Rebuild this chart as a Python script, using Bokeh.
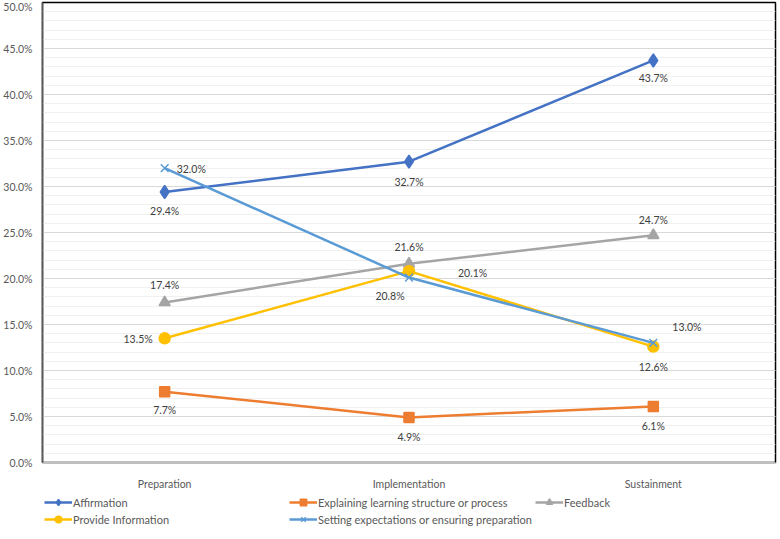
from bokeh.plotting import figure
from bokeh.models import (ColumnDataSource, Legend, LegendItem, PrintfTickFormatter,
                          SingleIntervalTicker, Range1d)
from bokeh.layouts import column
from bokeh.core.properties import value
from bokeh.embed import file_html
from bokeh.resources import INLINE

# ---------------- data ----------------
phases = ["Preparation", "Implementation", "Sustainment"]
affirmation = [29.4, 32.7, 43.7]
explaining = [7.7, 4.9, 6.1]
feedback = [17.4, 21.6, 24.7]
provide_info = [13.5, 20.8, 12.6]
setting_expect = [32.0, 20.1, 13.0]
series_names = ["Affirmation", "Explaining learning structure or process", "Feedback",
                "Provide Information", "Setting expectations or ensuring preparation"]
series_values = [affirmation, explaining, feedback, provide_info, setting_expect]

# ---------------- style ----------------
FONT = "Lato"
colors = ["#4472C4", "#ED7D31", "#A5A5A5", "#FFC000", "#5B9BD5"]
markers = ["diamond", "square", "triangle", "circle", "x"]
msizes = [13, 10, 11, 11, 11]
# label placement per point: (dx, dy, align)
label_place = [
    [(0, 19, "center"), (0, 20, "center"), (0, 18, "center")],
    [(0, 18, "center"), (0, 20, "center"), (0, 20, "center")],
    [(0, -17, "center"), (0, -17, "center"), (0, -15, "center")],
    [(-12, 1, "right"), (-19, 25, "center"), (0, 20, "center")],
    [(12, 1, "left"), (49, -5, "left"), (19, -16, "left")],
]

p = figure(x_range=phases, y_range=Range1d(0, 50), width=764, height=488,
           frame_width=733, frame_height=460,
           output_backend="svg", toolbar_location=None,
           min_border_top=2, min_border_right=3, min_border_left=0, min_border_bottom=26)
p.background_fill_color = "white"
p.border_fill_color = "white"
p.outline_line_color = "black"
p.outline_line_width = 1.5

p.yaxis.ticker = SingleIntervalTicker(interval=5, num_minor_ticks=5)
p.yaxis.formatter = PrintfTickFormatter(format="%.1f%%")
for ax in (p.xaxis, p.yaxis):
    ax.major_tick_line_color = None
    ax.minor_tick_line_color = None
    ax.major_label_text_font = FONT
    ax.major_label_text_font_size = "10.5px"
    ax.major_label_text_color = "#595959"
p.yaxis.axis_line_color = "#595959"
p.yaxis.axis_line_width = 1.5
p.yaxis.major_label_standoff = 4
p.xaxis.axis_line_color = "#BFBFBF"
p.xaxis.major_label_standoff = 9

p.xgrid.grid_line_color = None
p.ygrid.grid_line_color = "#D9D9D9"
p.ygrid.minor_grid_line_color = "#F0F0F0"

for i, (name, vals) in enumerate(zip(series_names, series_values)):
    src = ColumnDataSource(dict(x=phases, y=vals))
    p.line("x", "y", source=src, line_color=colors[i], line_width=2.5)
    p.scatter("x", "y", source=src, marker=markers[i], size=msizes[i],
              fill_color=colors[i], line_color=colors[i], line_width=1.5)
    for j in range(len(phases)):
        dx, dy, al = label_place[i][j]
        p.text(x=[phases[j]], y=[vals[j]], text=[f"{vals[j]:.1f}%"],
               x_offset=dx, y_offset=dy, text_align=al, text_baseline="middle",
               text_font=value(FONT), text_font_size="10.5px", text_color="#404040")

# ---------------- legend strip ----------------
# A separate strip below the chart; the series are re-plotted on a y range that
# lies above all values, so only their legend glyphs are visible.
LH = 35
ROW = 16
lf = figure(width=764, height=LH, x_range=phases, y_range=Range1d(60, 61),
            output_backend="svg", toolbar_location=None,
            x_axis_location=None, y_axis_location=None,
            min_border=0, min_border_left=0, min_border_right=0,
            min_border_top=0, min_border_bottom=0)
lf.outline_line_color = None
lf.grid.visible = False
lf.background_fill_color = "white"
lf.border_fill_color = "white"

items = []
for i, (name, vals) in enumerate(zip(series_names, series_values)):
    src = ColumnDataSource(dict(x=phases, y=vals))
    ln = lf.line("x", "y", source=src, line_color=colors[i], line_width=2.5)
    sc = lf.scatter("x", "y", source=src, marker=markers[i], size=msizes[i] - 4,
                    fill_color=colors[i], line_color=colors[i], line_width=1.5)
    items.append(LegendItem(label=name, renderers=[ln, sc]))

def make_legend(its, x):
    n = len(its)
    h = n * ROW + (n - 1) * 1
    lg = Legend(items=its, location=(x, LH - 2 - h), orientation="vertical",
                glyph_width=28, glyph_height=ROW, label_height=ROW, spacing=1,
                padding=0, margin=0, label_standoff=1,
                label_text_font=FONT, label_text_font_size="11px",
                label_text_color="#595959",
                border_line_color=None, background_fill_alpha=0)
    lf.add_layout(lg, "center")

make_legend([items[0], items[3]], 2)
make_legend([items[1], items[4]], 247)
make_legend([items[2]], 493)

layout = column(p, lf, spacing=0)
open("out.html", "w").write(file_html(layout, INLINE))
